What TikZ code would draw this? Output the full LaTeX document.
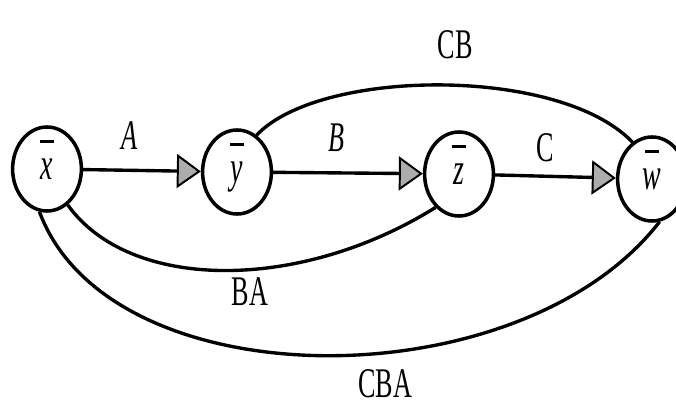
\documentclass[tikz,border=0pt]{standalone}
\usepackage{fontspec}
\setmainfont{Liberation Serif}
\newfontfamily\labfont[FakeStretch=0.62]{Liberation Serif}
\usetikzlibrary{arrows.meta,shapes.geometric}
\newcommand\barred[1]{\ooalign{\itshape #1\cr\hidewidth\smash{\raisebox{26pt}{\rule{10pt}{2pt}}}\hidewidth\cr}}
\tikzset{
  vert/.style={draw,ellipse,line width=2.5pt,minimum width=1.72cm,minimum height=2.1cm,inner sep=0pt,font=\labfont\fontsize{32}{34}\selectfont},
  conn/.style={line width=2.4pt},
  arr/.style={conn,-{Triangle[length=0.6cm,width=0.85cm,fill=gray!65,line width=1.4pt]}},
  lab/.style={font=\labfont\fontsize{30}{32}\selectfont,inner sep=0pt},
}
\begin{document}
\begin{tikzpicture}[x=0.025cm,y=-0.025cm]
\useasboundingbox (0,0) rectangle (676,405);
\node[vert] (x) at (47,169) {\barred{x}};
\node[vert] (y) at (237,172) {\barred{y}};
\node[vert] (z) at (459,174) {\barred{z}};
\node[vert] (w) at (652,179) {\barred{w}};
\draw[arr] (x) -- (y);
\draw[arr] (y) -- (z);
\draw[arr] (z) -- (w);
\draw[conn] (y.62) .. controls (320,68) and (560,66) .. (w.118);
\draw[conn] (x.-60) .. controls (130,292) and (300,292) .. (z.-125);
\draw[conn] (x.-100) .. controls (110,402) and (520,402) .. (w.-80);
\node[lab] (lA) at (129,136) {\itshape A};
\node[lab] (lB) at (336,138) {\itshape B};
\node[lab] (lC) at (545,148) {C};
\node[lab] (lCB) at (455,45) {CB};
\node[lab] (lBA) at (250,292) {BA};
\node[lab] (lCBA) at (385,384) {CBA};
\end{tikzpicture}
\end{document}
